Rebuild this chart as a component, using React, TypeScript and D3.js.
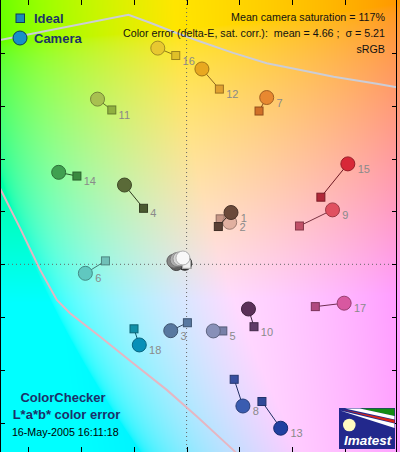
import { useEffect, useState } from 'react';
import * as d3 from 'd3';

const W = 400;
const H = 452;
const PLOT_RIGHT = 397;

// ColorChecker patches 1..24 (19-24 are the neutrals)
const patchIds = [1, 2, 3, 4, 5, 6, 7, 8, 9, 10, 11, 12, 13, 14, 15, 16, 17, 18, 19, 20, 21, 22, 23, 24];

const idealA = [12.0, 12.7, 0.3, -16.3, 13.7, -30.7, 27.4, 18.0, 42.7, 25.5, -28.3, 12.4, 28.5, -41.5, 50.8, -4.1, 48.7, -19.9, 0, 0, 0, 0, 0, 0];
const idealB = [14.3, 17.2, -22.1, 21.2, -25.2, 1.3, 58.0, -43.5, 14.5, -23.6, 58.4, 66.3, -51.9, 33.4, 25.4, 79.0, -16.0, -24.4, 0, 0, 0, 0, 0, 0];

const cameraA = [16.8, 16.3, -6.0, -23.5, 10.1, -38.3, 30.3, 21.3, 55.2, 23.4, -33.7, 5.8, 35.6, -48.4, 61.0, -10.9, 59.6, -17.9, -1.4, -2.5, -3.6, -4.8, -3.9, -0.7];
const cameraB = [19.6, 15.9, -25.1, 30.0, -25.2, -3.4, 63.1, -53.6, 20.6, -16.9, 62.5, 73.9, -62.0, 34.8, 38.0, 81.8, -14.7, -30.5, 2.4, 2.1, 1.8, 1.2, 0.3, 0.4];

const idealColor = ['#5a4034', '#c89888', '#5878a0', '#4a5a30', '#7880a8', '#70c0b8', '#d07028', '#3850a0', '#c05068', '#603c68', '#90b040', '#e0a030', '#304898', '#3a8a40', '#b02838', '#e0c028', '#b04880', '#1090a8', '#f0f0f0', '#c8c8c8', '#a0a0a0', '#787878', '#555555', '#343434'];
const cameraColor = ['#6b4a3a', '#e0b0a0', '#5878a0', '#5a6a38', '#8890b8', '#60c8c0', '#e88830', '#3a5cb0', '#e05060', '#5a3058', '#a8c050', '#e8a820', '#2040a0', '#40a050', '#d82838', '#e8c830', '#d858a0', '#0890b8', '#f8f8f8', '#d8d8d8', '#b0b0b0', '#888888', '#606060', '#383838'];

// which mark the patch number sits next to (true = ideal square)
const labelOnIdeal = [false, false, false, true, true, false, false, false, false, true, true, true, false, true, false, true, false, false];

const aTicks = [-60, -40, -20, 0, 20, 40, 60];
const bTicks = [-60, -40, -20, 0, 20, 40, 60, 80];

// sRGB gamut outline
const gamutTopA = [-70.6, -22.0, -13.8, -5.1, 5.1, 17.6, 30.3, 43.1, 55.6, 72.0, 79.5];
const gamutTopB = [84.9, 94.4, 91.4, 88.0, 84.3, 80.0, 76.1, 73.5, 71.0, 68.3, 67.0];
const gamutLowA = [-70.6, -63.0, -55.4, -49.1, -44.1, -32.7, -20.1, -7.5, 3.9, 17.6, 19.5];
const gamutLowB = [28.8, 13.7, -2.1, -13.5, -18.5, -27.4, -37.5, -47.5, -57.6, -70.2, -72.0];

const BG_L = 91;

const font = '"Liberation Sans", Arial, sans-serif';
const sp = '\u00a0';

export default function App() {
  const [bg, setBg] = useState('');

  const x = d3.scaleLinear([-70.6, 79.6], [0, PLOT_RIGHT]);
  const y = d3.scaleLinear([-71, 100], [H, 0]);

  useEffect(() => {
    const canvas = document.createElement('canvas');
    canvas.width = W;
    canvas.height = H;
    const ctx = canvas.getContext('2d');
    if (!ctx) return;
    const img = ctx.createImageData(W, H);
    const clamp = (v: number) => Math.max(0, Math.min(255, Math.round(v)));
    for (let j = 0; j < H; j++) {
      const b = y.invert(j + 0.5);
      for (let i = 0; i < W; i++) {
        const a = x.invert(i + 0.5);
        const c = d3.lab(BG_L, a, b).rgb();
        const k = (j * W + i) * 4;
        img.data[k] = clamp(c.r);
        img.data[k + 1] = clamp(c.g);
        img.data[k + 2] = clamp(c.b);
        img.data[k + 3] = 255;
      }
    }
    ctx.putImageData(img, 0, 0);
    setBg(canvas.toDataURL());
  }, []);

  const line = d3.line<[number, number]>((d) => x(d[0]), (d) => y(d[1]));
  const top = gamutTopA.map((a, i) => [a, gamutTopB[i]] as [number, number]);
  const low = gamutLowA.map((a, i) => [a, gamutLowB[i]] as [number, number]);

  const order = patchIds.map((_, i) => i).reverse();

  return (
    <svg width={W} height={H} style={{ position: 'absolute', left: 0, top: 0 }} fontFamily={font}>
      {bg && <image href={bg} x={0} y={0} width={W} height={H} />}

      {/* axis cross at a*=0, b*=0 */}
      <line x1={x(0)} x2={x(0)} y1={0} y2={H} stroke="#666" strokeDasharray="1 3" />
      <line x1={0} x2={PLOT_RIGHT} y1={y(0)} y2={y(0)} stroke="#666" strokeDasharray="1 3" />

      <path d={line(top) ?? ''} fill="none" stroke="#cccdd6" strokeWidth={2} />
      <path d={line(low) ?? ''} fill="none" stroke="#e6b6c2" strokeWidth={2} />

      {/* frame and ticks */}
      <g stroke="#000" strokeWidth={1}>
        <line x1={0.5} x2={0.5} y1={0} y2={H} />
        <line x1={PLOT_RIGHT - 0.5} x2={PLOT_RIGHT - 0.5} y1={0} y2={H} />
        {aTicks.map((t) => (
          <g key={'a' + t}>
            <line x1={Math.round(x(t)) + 0.5} x2={Math.round(x(t)) + 0.5} y1={0} y2={5} />
            <line x1={Math.round(x(t)) + 0.5} x2={Math.round(x(t)) + 0.5} y1={H - 5} y2={H} />
          </g>
        ))}
        {bTicks.map((t) => (
          <g key={'b' + t}>
            <line x1={0} x2={5} y1={Math.round(y(t)) + 0.5} y2={Math.round(y(t)) + 0.5} />
            <line x1={PLOT_RIGHT - 5} x2={PLOT_RIGHT} y1={Math.round(y(t)) + 0.5} y2={Math.round(y(t)) + 0.5} />
          </g>
        ))}
      </g>

      {/* patches: ideal square, camera circle, joined by a line */}
      {order.map((i) => {
        const sx = x(idealA[i]);
        const sy = y(idealB[i]);
        const cx = x(cameraA[i]);
        const cy = y(cameraB[i]);
        const sq = idealColor[i];
        const ci = cameraColor[i];
        return (
          <g key={patchIds[i]}>
            <line x1={sx} y1={sy} x2={cx} y2={cy} stroke={d3.color(sq)!.darker(1.3).formatHex()} strokeWidth={1} />
            <rect x={sx - 4} y={sy - 4} width={8} height={8} fill={sq} stroke={d3.color(sq)!.darker(1).formatHex()} />
            <circle cx={cx} cy={cy} r={7} fill={ci} stroke={d3.color(ci)!.darker(1).formatHex()} />
          </g>
        );
      })}

      {/* patch numbers */}
      <g fill="#8a8a8a" fontSize={11}>
        {patchIds.slice(0, 18).map((id, i) => {
          const onIdeal = labelOnIdeal[i];
          const px = onIdeal ? x(idealA[i]) + 6.8 : x(cameraA[i]) + 9.8;
          const py = (onIdeal ? y(idealB[i]) : y(cameraB[i])) + 9;
          return (
            <text key={id} x={px} y={py}>
              {id}
            </text>
          );
        })}
      </g>

      {/* legend */}
      <rect x={16} y={14} width={8.5} height={8.5} fill="#1a8ab8" stroke="#0d3a5a" />
      <circle cx={20} cy={38} r={7} fill="#1890c8" stroke="#0d3a5a" />
      <g fill="#1c3468" fontSize={13} fontWeight="bold">
        <text x={34} y={22.7}>Ideal</text>
        <text x={34} y={42.7}>Camera</text>
      </g>

      {/* summary */}
      <g fill="#111" fontSize={10.7} textAnchor="end">
        <text x={385} y={21}>Mean camera saturation = 117%</text>
        <text x={385} y={36.7}>{`Color error (delta-E, sat. corr.):${sp}${sp}mean = 4.66 ;${sp}${sp}σ = 5.21`}</text>
        <text x={385} y={53.3}>sRGB</text>
      </g>

      {/* title */}
      <g textAnchor="middle">
        <text x={63} y={401.7} fill="#1c3068" fontSize={13} fontWeight="bold">ColorChecker</text>
        <text x={66.5} y={419} fill="#1c3068" fontSize={13} fontWeight="bold">L*a*b* color error</text>
        <text x={65.3} y={435.7} fill="#000" fontSize={10.7}>16-May-2005 16:11:18</text>
      </g>

      {/* Imatest logo */}
      <g transform="translate(339,408)">
        <rect x={0} y={0} width={56} height={41} fill="#22288c" />
        <polygon points="21,0.5 55.5,0.5 55.5,8" fill="#148a14" />
        <polygon points="6,0.5 21,0.5 55.5,8 55.5,11.5" fill="#ffffff" />
        <polygon points="3,1.5 55.5,12 55.5,15" fill="#d82818" />
        <polygon points="1,2.5 55.5,15.5 55.5,20" fill="#ffffff" />
        <circle cx={10.3} cy={17} r={6.3} fill="#fffbc0" />
        <text x={5} y={37} fill="#fff" fontSize={13.5} fontWeight="bold" fontStyle="italic">Imatest</text>
      </g>
    </svg>
  );
}
